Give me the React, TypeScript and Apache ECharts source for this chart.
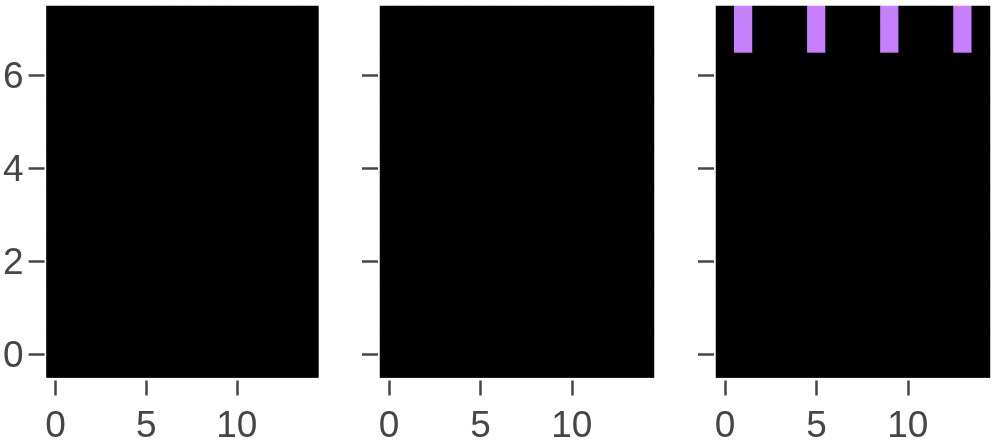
import React, { useEffect, useRef } from 'react';
import * as echarts from 'echarts';

// column and row categories (imshow indices)
const xCats = ['0', '1', '2', '3', '4', '5', '6', '7', '8', '9', '10', '11', '12', '13', '14'];
const yCats = ['0', '1', '2', '3', '4', '5', '6', '7'];

// top row of each panel; every lower row is 0 (black)
const panelATop = [0, 0, 0, 0, 0, 0, 0, 0, 0, 0, 0, 0, 0, 0, 0];
const panelBTop = [0, 0, 0, 0, 0, 0, 0, 0, 0, 0, 0, 0, 0, 0, 0];
const panelCTop = [0, 1, 0, 0, 0, 1, 0, 0, 0, 1, 0, 0, 0, 1, 0];
const lowerRowValue = 0;

const panelTops = [panelATop, panelBTop, panelCTop];
const gridLefts = [44.3, 380, 716];

const FONT = '"Liberation Sans", Arial, Helvetica, sans-serif';
const TICK = '#464646';

const App: React.FC = () => {
  const chartRef = useRef<HTMLDivElement>(null);

  useEffect(() => {
    if (!chartRef.current) return;
    const chart = echarts.init(chartRef.current, null, { renderer: 'svg' });

    const grids = gridLefts.map((left) => ({
      left,
      top: 6,
      width: 274,
      height: 375.5,
      show: true,
      backgroundColor: '#000',
      borderWidth: 0,
    }));

    const xAxes = gridLefts.map((_, i) => ({
      type: 'category' as const,
      gridIndex: i,
      data: xCats,
      offset: 3,
      axisLine: { show: false },
      axisTick: {
        show: true,
        alignWithLabel: true,
        length: 15,
        interval: (idx: number) => idx % 5 === 0,
        lineStyle: { color: TICK, width: 2.5 },
      },
      axisLabel: {
        interval: (idx: number) => idx % 5 === 0,
        margin: 34,
        fontSize: 37,
        lineHeight: 20,
        color: TICK,
        fontFamily: FONT,
      },
      splitLine: { show: false },
    }));

    const yAxes = gridLefts.map((_, i) => ({
      type: 'category' as const,
      gridIndex: i,
      data: yCats,
      offset: 2,
      axisLine: { show: false },
      axisTick: {
        show: true,
        alignWithLabel: true,
        length: 16,
        interval: (idx: number) => idx % 2 === 0,
        lineStyle: { color: TICK, width: 2.5 },
      },
      axisLabel: {
        show: i === 0,
        interval: (idx: number) => idx % 2 === 0,
        margin: 21,
        fontSize: 37,
        color: TICK,
        fontFamily: FONT,
      },
      splitLine: { show: false },
    }));

    const series = panelTops.map((top, i) => {
      const data: number[][] = [];
      yCats.forEach((_, y) => {
        xCats.forEach((__, x) => {
          data.push([x, y, y === yCats.length - 1 ? top[x] : lowerRowValue]);
        });
      });
      return {
        type: 'heatmap' as const,
        xAxisIndex: i,
        yAxisIndex: i,
        data,
        itemStyle: { borderWidth: 0 },
        emphasis: { disabled: true },
      };
    });

    chart.setOption({
      animation: false,
      grid: grids,
      xAxis: xAxes,
      yAxis: yAxes,
      visualMap: {
        show: false,
        type: 'piecewise',
        seriesIndex: [0, 1, 2],
        pieces: [
          { value: 0, color: '#000000' },
          { value: 1, color: '#c680ff' },
        ],
      },
      series,
    });

    return () => {
      chart.dispose();
    };
  }, []);

  return (
    <div
      ref={chartRef}
      style={{ position: 'fixed', left: 0, top: 0, width: 996, height: 443 }}
    />
  );
};

export default App;
